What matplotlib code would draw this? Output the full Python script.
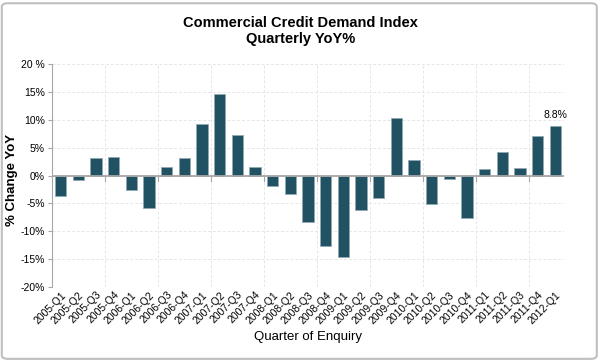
import matplotlib
matplotlib.use("Agg")
import matplotlib.pyplot as plt
from matplotlib.patches import FancyBboxPatch
import numpy as np

plt.rcParams['font.family'] = ['Liberation Sans', 'DejaVu Sans']

quarters = ['2005-Q1', '2005-Q2', '2005-Q3', '2005-Q4',
            '2006-Q1', '2006-Q2', '2006-Q3', '2006-Q4',
            '2007-Q1', '2007-Q2', '2007-Q3', '2007-Q4',
            '2008-Q1', '2008-Q2', '2008-Q3', '2008-Q4',
            '2009-Q1', '2009-Q2', '2009-Q3', '2009-Q4',
            '2010-Q1', '2010-Q2', '2010-Q3', '2010-Q4',
            '2011-Q1', '2011-Q2', '2011-Q3', '2011-Q4',
            '2012-Q1']
yoy = [-3.7, -0.85, 3.1, 3.35,
       -2.6, -5.75, 1.5, 3.2,
       9.2, 14.6, 7.2, 1.5,
       -1.85, -3.3, -8.3, -12.7,
       -14.7, -6.1, -4.1, 10.4,
       2.75, -5.15, -0.7, -7.7,
       1.25, 4.2, 1.4, 7.1,
       8.8]
y_ticks = [20, 15, 10, 5, 0, -5, -10, -15, -20]
y_tick_labels = ['20 %', '15%', '10%', '5%', '0%', '-5%', '-10%', '-15%', '-20%']

fig = plt.figure(figsize=(6.01, 3.61), dpi=100)
ax = fig.add_axes([0.0865, 0.205, 0.852, 0.6177])

x = np.arange(len(quarters))
ax.bar(x, yoy, width=0.64, color='#215264', edgecolor='#8fa9b3', linewidth=0.6, zorder=3)

ax.set_xlim(-0.5, len(quarters) - 0.5)
ax.set_ylim(-20, 20)

# dashed grid
ax.set_yticks(y_ticks)
ax.set_yticklabels(y_tick_labels, fontsize=7.5)
for v in y_ticks:
    ax.axhline(v, color='#e6e6e6', lw=0.7, ls=(0, (3, 2)), zorder=1)
for gx in np.arange(2.5, len(quarters) - 1, 3):
    ax.axvline(gx, color='#e6e6e6', lw=0.7, ls=(0, (3, 2)), zorder=1)
    ax.plot([gx, gx], [0, -0.9], color='#a6a6a6', lw=0.8, zorder=4)
ax.axhline(0, color='#a6a6a6', lw=1.3, zorder=4)

ax.set_xticks(x)
ax.set_xticklabels(quarters, rotation=45, ha='right', rotation_mode='anchor', fontsize=7.5)
ax.tick_params(axis='x', length=0, pad=2)
ax.tick_params(axis='y', length=3, color='#a6a6a6', pad=2)

for s in ['top', 'right', 'bottom']:
    ax.spines[s].set_visible(False)
ax.spines['left'].set_color('#a6a6a6')

ax.set_xlabel('Quarter of Enquiry', fontsize=9.5, labelpad=4)
ax.set_ylabel('% Change YoY', fontsize=9.5, fontweight='bold')
ax.yaxis.set_label_coords(-0.067, 0.48)

ax.text(x[-1], yoy[-1] + 1.2, f'{yoy[-1]}%', ha='center', va='bottom', fontsize=7.5)

fig.text(0.5, 0.955, 'Commercial Credit Demand Index\nQuarterly YoY%', ha='center', va='top',
         fontsize=10.5, fontweight='bold', linespacing=1.15)

border = FancyBboxPatch((0.003, 0.006), 0.99, 0.985, boxstyle='round,pad=0,rounding_size=0.01',
                        transform=fig.transFigure, fill=False, edgecolor='#bfbfbf', lw=1.5)
fig.patches.append(border)

fig.savefig('out.png', dpi=100)
